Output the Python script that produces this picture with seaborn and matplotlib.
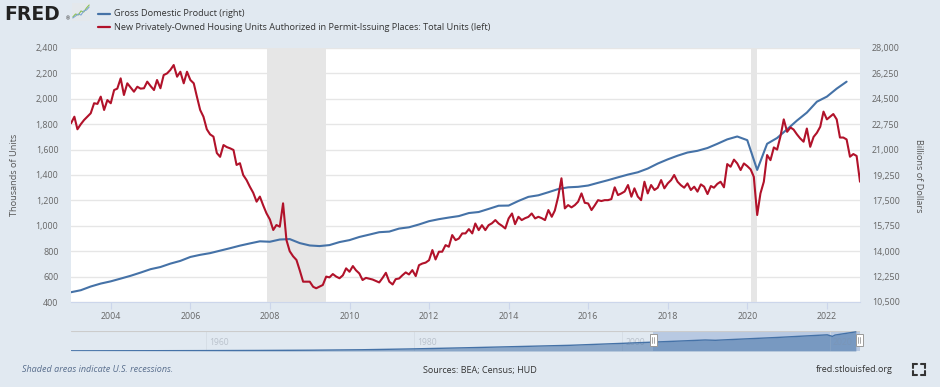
import matplotlib
matplotlib.use("Agg")
import matplotlib.pyplot as plt
from matplotlib.lines import Line2D
from matplotlib.patches import Rectangle
from matplotlib.ticker import FuncFormatter
import numpy as np
import pandas as pd
import seaborn as sns

# --- data -----------------------------------------------------------------
# Housing permits, thousands of units (SAAR), monthly Jan 2003 .. Nov 2022
permits = [
    1807, 1859, 1760, 1800, 1833, 1860, 1886, 1965, 1960, 2017, 1912, 1990,  # 2003
    1965, 2069, 2080, 2161, 2030, 2122, 2090, 2056, 2095, 2080, 2083, 2135,  # 2004
    2100, 2069, 2148, 2083, 2187, 2200, 2227, 2266, 2174, 2213, 2122, 2213,  # 2005
    2148, 2122, 2020, 1912, 1859, 1760, 1720, 1702, 1573, 1543, 1636, 1620,  # 2006
    1610, 1597, 1479, 1493, 1400, 1360, 1308, 1260, 1190, 1230, 1160, 1098,  # 2007
    1050, 967, 1006, 993, 1177, 888, 800, 760, 731, 650, 560, 560,           # 2008
    560, 520, 508, 521, 534, 600, 594, 620, 600, 587, 610, 665,              # 2009
    638, 683, 650, 625, 573, 590, 584, 577, 565, 554, 590, 630,              # 2010
    560, 538, 580, 585, 610, 633, 617, 651, 604, 690, 703, 710,              # 2011
    729, 809, 735, 796, 796, 848, 835, 927, 887, 900, 940, 940,              # 2012
    974, 940, 1018, 966, 1005, 966, 1005, 1020, 1045, 1018, 1000, 979,       # 2013
    1058, 1097, 1013, 1071, 1045, 1060, 1070, 1097, 1058, 1071, 1060, 1045,  # 2014
    1124, 1071, 1120, 1229, 1374, 1137, 1163, 1145, 1163, 1190, 1255, 1181,  # 2015
    1176, 1124, 1160, 1202, 1195, 1202, 1202, 1210, 1303, 1242, 1255, 1270,  # 2016
    1321, 1229, 1295, 1230, 1202, 1347, 1255, 1321, 1282, 1300, 1360, 1295,  # 2017
    1334, 1360, 1400, 1347, 1320, 1300, 1334, 1282, 1308, 1269, 1326, 1308,  # 2018
    1250, 1313, 1300, 1330, 1347, 1303, 1486, 1465, 1521, 1491, 1439, 1491,  # 2019
    1470, 1444, 1386, 1085, 1255, 1347, 1557, 1517, 1617, 1600, 1705, 1838,  # 2020
    1740, 1774, 1758, 1720, 1688, 1662, 1766, 1622, 1700, 1732, 1780, 1899,  # 2021
    1838, 1860, 1880, 1838, 1695, 1695, 1680, 1544, 1565, 1550, 1347,        # 2022
]

# GDP, billions of dollars, quarterly 2003Q1 .. 2022Q3
gdp = [
    11174, 11312, 11567, 11770,
    11923, 12112, 12305, 12527,
    12762, 12910, 13143, 13333,
    13604, 13750, 13867, 14038,
    14208, 14383, 14535, 14681,
    14651, 14805, 14835, 14559,
    14395, 14353, 14421, 14628,
    14764, 14980, 15142, 15309,
    15351, 15558, 15647, 15842,
    16068, 16207, 16319, 16420,
    16629, 16700, 16912, 17133,
    17144, 17462, 17743, 17852,
    18063, 18280, 18401, 18435,
    18525, 18711, 18892, 19090,
    19280, 19438, 19693, 20038,
    20328, 20580, 20798, 20917,
    21111, 21398, 21704, 21903,
    21650, 19600, 21400, 21800,
    22400, 23000, 23550, 24300,
    24650, 25200, 25680,
]

# long-run GDP shown in the range navigator
nav_years = [1947, 1955, 1960, 1965, 1970, 1975, 1980, 1985, 1990, 1995,
             2000, 2005, 2008, 2009, 2010, 2015, 2019.75, 2020.25, 2020.5, 2022.5]
nav_gdp = [243, 400, 543, 743, 1073, 1685, 2857, 4339, 5963, 7640,
           10251, 13039, 14770, 14350, 15049, 18206, 21700, 19600, 21400, 25680]
nav_ticks = [1960, 1980, 2000, 2020]

recessions = [("2007-12-01", "2009-06-01"), ("2020-02-01", "2020-04-01")]
left_ticks = list(range(400, 2401, 200))
right_ticks = list(np.arange(10500, 28001, 1750))
year_ticks = list(range(2004, 2023, 2))

legend_labels = ["Gross Domestic Product (right)",
                 "New Privately-Owned Housing Units Authorized in Permit-Issuing Places: Total Units (left)"]

# --- styling --------------------------------------------------------------
BG = "#E1E9F1"
BLUE = "#4572A7"
RED = "#B1122A"
GRID = "#E6E6E6"
TICK = "#666666"

sns.set_theme(style="white")
plt.rcParams["font.family"] = ["Open Sans", "DejaVu Sans"]

W, H = 940, 387


def fx(x):
    return x / W


def fy(y):
    return 1 - y / H


fig = plt.figure(figsize=(W / 100, H / 100), dpi=100, facecolor=BG)

ax = fig.add_axes([fx(71), fy(302), fx(860) - fx(71), fy(48) - fy(302)])
ax2 = ax.twinx()
# permits line drawn above GDP; grid + shading live on the bottom axes
ax.set_zorder(2)
ax2.set_zorder(1)
ax.patch.set_visible(False)
ax2.patch.set_facecolor("white")
ax2.patch.set_visible(True)

permit_dates = pd.date_range("2003-01-01", periods=len(permits), freq="MS")
gdp_dates = pd.date_range("2003-01-01", periods=len(gdp), freq="QS")

for start, end in recessions:
    ax2.axvspan(pd.Timestamp(start), pd.Timestamp(end), color="#E6E6E6", lw=0, zorder=0)

sns.lineplot(x=gdp_dates, y=gdp, ax=ax2, color=BLUE, linewidth=1.5)
sns.lineplot(x=permit_dates, y=permits, ax=ax, color=RED, linewidth=1.5)

ax.set_xlim(pd.Timestamp("2003-01-01"), pd.Timestamp("2022-11-01"))
ax.set_ylim(400, 2400)
ax2.set_ylim(10500, 28000)
ax.set_yticks(left_ticks)
ax2.set_yticks(right_ticks)
ax.yaxis.set_major_formatter(FuncFormatter(lambda v, _: f"{v:,.0f}"))
ax2.yaxis.set_major_formatter(FuncFormatter(lambda v, _: f"{v:,.0f}"))
ax.set_xticks([pd.Timestamp(f"{y}-01-01") for y in year_ticks])
ax.set_xticklabels([str(y) for y in year_ticks])

ax2.yaxis.grid(True, color=GRID, lw=1.0)
ax2.xaxis.grid(False)
ax.grid(False)

ax.tick_params(axis="y", length=0, pad=9, labelsize=6.4, labelcolor=TICK)
ax2.tick_params(axis="y", length=0, pad=8.5, labelsize=6.4, labelcolor=TICK)
ax.tick_params(axis="x", length=5, width=0.8, color="#CCD6EB", direction="out",
               pad=2, labelsize=6.4, labelcolor=TICK, bottom=True)
for a in (ax, ax2):
    for side in ("top", "left", "right"):
        a.spines[side].set_visible(False)
    a.spines["bottom"].set_visible(False)
    a.set_xlabel("")
    a.set_ylabel("")
ax.spines["bottom"].set_visible(True)
ax.spines["bottom"].set_color("#CCD6EB")
ax.spines["bottom"].set_linewidth(0.8)

fig.text(fx(15), fy(175), "Thousands of Units", rotation=90, ha="center", va="center",
         fontsize=6.6, color="#555555")
fig.text(fx(918), fy(176), "Billions of Dollars", rotation=270, ha="center", va="center",
         fontsize=6.6, color="#555555")

# --- header: logo + legend -------------------------------------------------
fig.text(fx(4), fy(14), "FRED", family="DejaVu Sans", fontweight="bold", fontsize=13.5,
         color="#222222", ha="left", va="center")
fig.text(fx(66), fy(19), "®", fontsize=3.5, color="#222222", ha="left", va="center")
icon = fig.add_axes([fx(72), fy(21), fx(18), fy(3) - fy(21)])
icon_x = [0, 1, 2, 3, 4, 5, 6]
icon_green = [1, 2.5, 2, 4, 3.5, 5.5, 7]
icon_blue = [0.5, 1.5, 2.5, 2, 4, 4.5, 6]
icon.set_facecolor("#E4E8EC")
icon.plot(icon_x, icon_green, color="#8CC152", lw=0.8)
icon.plot(icon_x, icon_blue, color="#7FA7D4", lw=0.8)
icon.set_xlim(-0.3, 6.3)
icon.set_ylim(-1, 8)
icon.set_xticks([])
icon.set_yticks([])
for s in icon.spines.values():
    s.set_visible(False)

for yy, col, lab in [(14, BLUE, legend_labels[0]), (27, RED, legend_labels[1])]:
    fig.add_artist(Line2D([fx(98), fx(110)], [fy(yy), fy(yy)], color=col, lw=1.6))
    fig.text(fx(114), fy(yy), lab, fontsize=6.6, color="#333333", ha="left", va="center")

# --- navigator -------------------------------------------------------------
nav = fig.add_axes([fx(71), fy(351), fx(860) - fx(71), fy(330.5) - fy(351)])
nav.set_facecolor(BG)
nav.set_xlim(1947.0, 2022.9)
nav.set_ylim(0, 27500)
nav.axvspan(2003.0, 2022.9, color="#B8C9E2", lw=0, zorder=1)
for t in nav_ticks:
    nav.axvline(t, color="#D5DCE4", lw=0.6, zorder=1.5)
    nav.text(t + 0.3, 12000, str(t), fontsize=6.2, color="#BAC2CC", ha="left", va="center",
             zorder=1.6)
nav.fill_between(nav_years, nav_gdp, 0, color=BLUE, alpha=0.55, lw=0, zorder=2)
sns.lineplot(x=nav_years, y=nav_gdp, ax=nav, color=BLUE, linewidth=1.0, zorder=3)
nav.axhline(27500, color="#CCCCCC", lw=0.8)
nav.set_xticks([])
nav.set_yticks([])
nav.set_xlabel("")
nav.set_ylabel("")
for s in nav.spines.values():
    s.set_visible(False)

for hx in (653, 859):
    fig.add_artist(Rectangle((fx(hx - 3.5), fy(346)), fx(7), fy(334) - fy(346),
                             transform=fig.transFigure, facecolor="white",
                             edgecolor="#999999", lw=0.7, zorder=5))
    for dx in (-1, 1):
        fig.add_artist(Line2D([fx(hx + dx), fx(hx + dx)], [fy(337), fy(343)],
                              color="#999999", lw=0.6, zorder=6))

# --- footer ----------------------------------------------------------------
fig.text(fx(22), fy(370), "Shaded areas indicate U.S. recessions.", fontsize=6.5,
         style="italic", color="#5A6F8E", ha="left", va="center")
fig.text(fx(480), fy(370), "Sources: BEA; Census; HUD", fontsize=6.5, color="#333333",
         ha="center", va="center")
fig.text(fx(893), fy(370), "fred.stlouisfed.org", fontsize=6.5, color="#333333",
         ha="right", va="center")

# fullscreen icon
x0, x1, y0, y1, c = 913, 925, 364, 375, 4
for (cx, cy, sx, sy) in [(x0, y0, 1, 1), (x1, y0, -1, 1), (x0, y1, 1, -1), (x1, y1, -1, -1)]:
    fig.add_artist(Line2D([fx(cx + sx * c), fx(cx), fx(cx)], [fy(cy), fy(cy), fy(cy + sy * c)],
                          color="#333333", lw=1.5, solid_joinstyle="miter"))

fig.savefig("out.png", dpi=100, facecolor=BG)
